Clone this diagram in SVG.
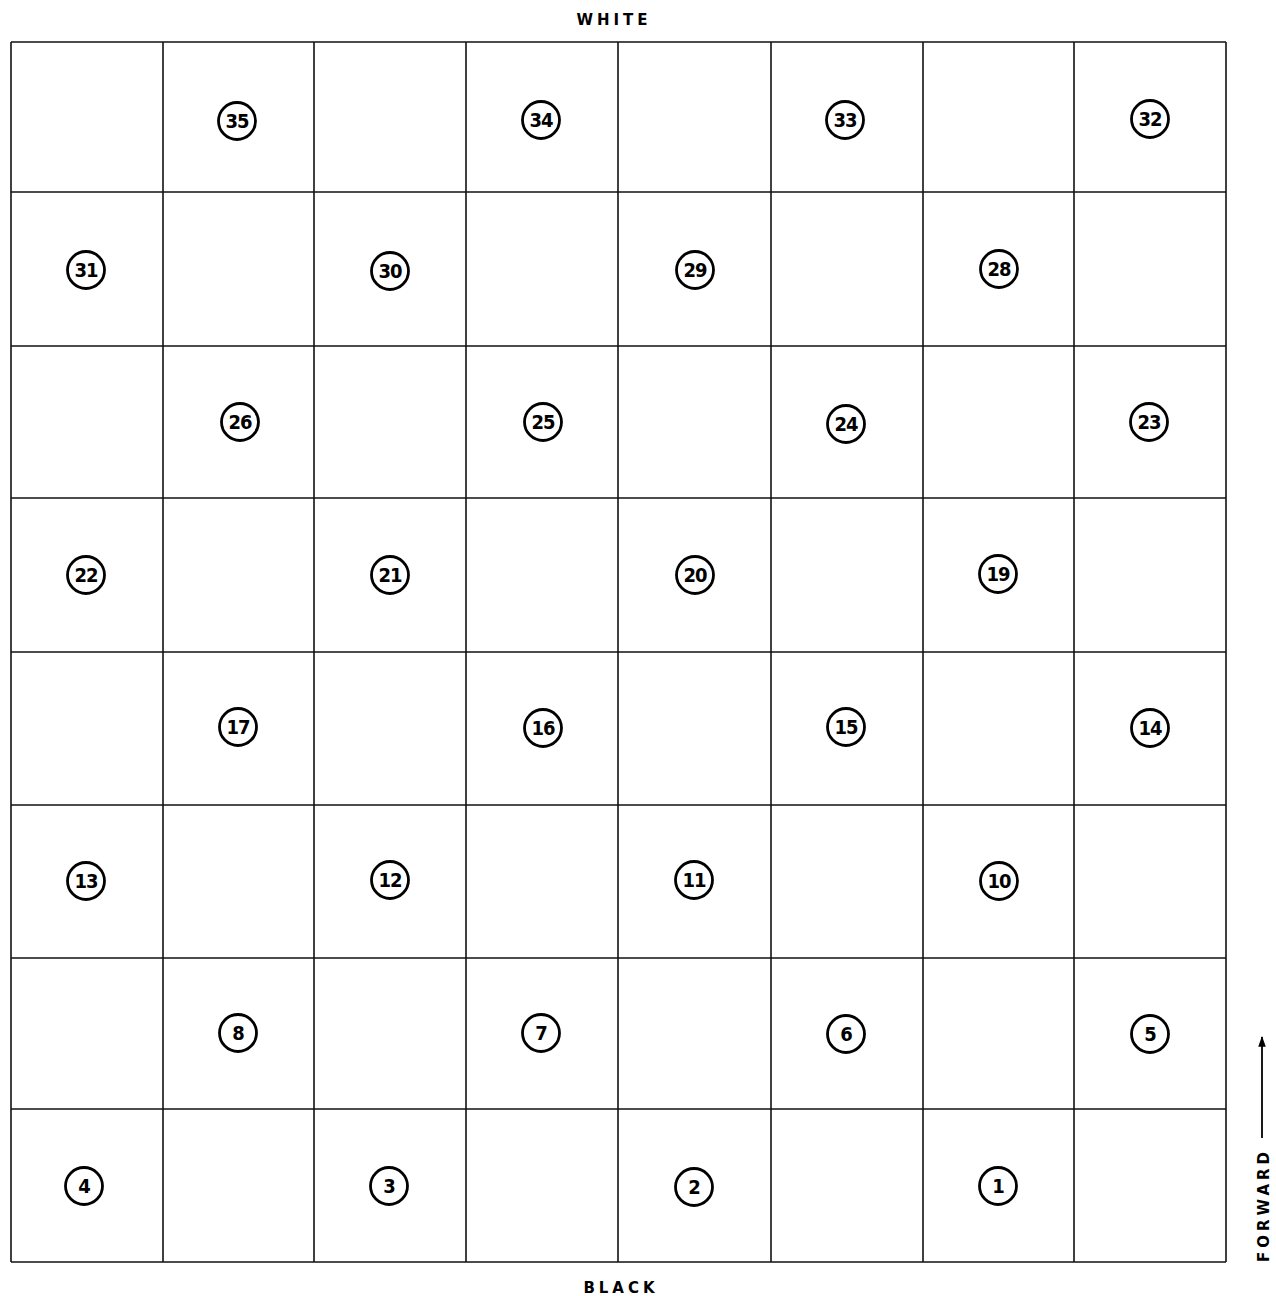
<svg xmlns="http://www.w3.org/2000/svg" width="1276" height="1296" viewBox="0 0 1276 1296">
<style>
.grid line{stroke:#111;stroke-width:1.6}
.sq circle{fill:#fff;stroke:#000;stroke-width:2.8}
.sq text{font-family:"DejaVu Sans Condensed","DejaVu Sans",sans-serif;font-stretch:condensed;font-weight:bold;font-size:20px;letter-spacing:-1px;text-anchor:middle;dominant-baseline:central;fill:#000}
.lbl{font-family:"DejaVu Sans","Liberation Sans",sans-serif;font-weight:bold;font-size:15px;letter-spacing:4px;fill:#000;text-anchor:middle}
</style>
<defs>
<marker id="ah" viewBox="0 0 10 10" refX="9" refY="5" markerWidth="6" markerHeight="6" orient="auto"><path d="M0,1.5 L10,5 L0,8.5 Z" fill="#000"/></marker>
</defs>
<rect width="1276" height="1296" fill="#fff"/>
<g class="grid" id="board">
<line x1="11" y1="42" x2="11" y2="1262"/>
<line x1="163" y1="42" x2="163" y2="1262"/>
<line x1="314" y1="42" x2="314" y2="1262"/>
<line x1="466" y1="42" x2="466" y2="1262"/>
<line x1="618" y1="42" x2="618" y2="1262"/>
<line x1="771" y1="42" x2="771" y2="1262"/>
<line x1="923" y1="42" x2="923" y2="1262"/>
<line x1="1074" y1="42" x2="1074" y2="1262"/>
<line x1="1226" y1="42" x2="1226" y2="1262"/>
<line x1="11" y1="42" x2="1226" y2="42"/>
<line x1="11" y1="192" x2="1226" y2="192"/>
<line x1="11" y1="346" x2="1226" y2="346"/>
<line x1="11" y1="498" x2="1226" y2="498"/>
<line x1="11" y1="652" x2="1226" y2="652"/>
<line x1="11" y1="805" x2="1226" y2="805"/>
<line x1="11" y1="958" x2="1226" y2="958"/>
<line x1="11" y1="1109" x2="1226" y2="1109"/>
<line x1="11" y1="1262" x2="1226" y2="1262"/>
</g>
<g class="sq">
<g id="s35"><circle cx="237" cy="121" r="18.5"/><text x="237" y="121">35</text></g>
<g id="s34"><circle cx="541" cy="120" r="18.5"/><text x="541" y="120">34</text></g>
<g id="s33"><circle cx="845" cy="120" r="18.5"/><text x="845" y="120">33</text></g>
<g id="s32"><circle cx="1150" cy="119" r="18.5"/><text x="1150" y="119">32</text></g>
<g id="s31"><circle cx="86" cy="270" r="18.5"/><text x="86" y="270">31</text></g>
<g id="s30"><circle cx="390" cy="271" r="18.5"/><text x="390" y="271">30</text></g>
<g id="s29"><circle cx="695" cy="270" r="18.5"/><text x="695" y="270">29</text></g>
<g id="s28"><circle cx="999" cy="269" r="18.5"/><text x="999" y="269">28</text></g>
<g id="s26"><circle cx="240" cy="422" r="18.5"/><text x="240" y="422">26</text></g>
<g id="s25"><circle cx="543" cy="422" r="18.5"/><text x="543" y="422">25</text></g>
<g id="s24"><circle cx="846" cy="424" r="18.5"/><text x="846" y="424">24</text></g>
<g id="s23"><circle cx="1149" cy="422" r="18.5"/><text x="1149" y="422">23</text></g>
<g id="s22"><circle cx="86" cy="575" r="18.5"/><text x="86" y="575">22</text></g>
<g id="s21"><circle cx="390" cy="575" r="18.5"/><text x="390" y="575">21</text></g>
<g id="s20"><circle cx="695" cy="575" r="18.5"/><text x="695" y="575">20</text></g>
<g id="s19"><circle cx="998" cy="574" r="18.5"/><text x="998" y="574">19</text></g>
<g id="s17"><circle cx="238" cy="727" r="18.5"/><text x="238" y="727">17</text></g>
<g id="s16"><circle cx="543" cy="728" r="18.5"/><text x="543" y="728">16</text></g>
<g id="s15"><circle cx="846" cy="727" r="18.5"/><text x="846" y="727">15</text></g>
<g id="s14"><circle cx="1150" cy="728" r="18.5"/><text x="1150" y="728">14</text></g>
<g id="s13"><circle cx="86" cy="881" r="18.5"/><text x="86" y="881">13</text></g>
<g id="s12"><circle cx="390" cy="880" r="18.5"/><text x="390" y="880">12</text></g>
<g id="s11"><circle cx="694" cy="880" r="18.5"/><text x="694" y="880">11</text></g>
<g id="s10"><circle cx="999" cy="881" r="18.5"/><text x="999" y="881">10</text></g>
<g id="s8"><circle cx="238" cy="1033" r="18.5"/><text x="238" y="1033">8</text></g>
<g id="s7"><circle cx="541" cy="1033" r="18.5"/><text x="541" y="1033">7</text></g>
<g id="s6"><circle cx="846" cy="1034" r="18.5"/><text x="846" y="1034">6</text></g>
<g id="s5"><circle cx="1150" cy="1034" r="18.5"/><text x="1150" y="1034">5</text></g>
<g id="s4"><circle cx="84" cy="1186" r="18.5"/><text x="84" y="1186">4</text></g>
<g id="s3"><circle cx="389" cy="1186" r="18.5"/><text x="389" y="1186">3</text></g>
<g id="s2"><circle cx="694" cy="1187" r="18.5"/><text x="694" y="1187">2</text></g>
<g id="s1"><circle cx="998" cy="1186" r="18.5"/><text x="998" y="1186">1</text></g>
</g>
<text class="lbl" x="614" y="25">WHITE</text>
<text class="lbl" x="621" y="1293">BLACK</text>
<g id="forward">
<text class="lbl" transform="translate(1269,1205) rotate(-90)" x="0" y="0">FORWARD</text>
<line x1="1262" y1="1138" x2="1262" y2="1037" stroke="#000" stroke-width="1.8" marker-end="url(#ah)"/>
</g>
</svg>
